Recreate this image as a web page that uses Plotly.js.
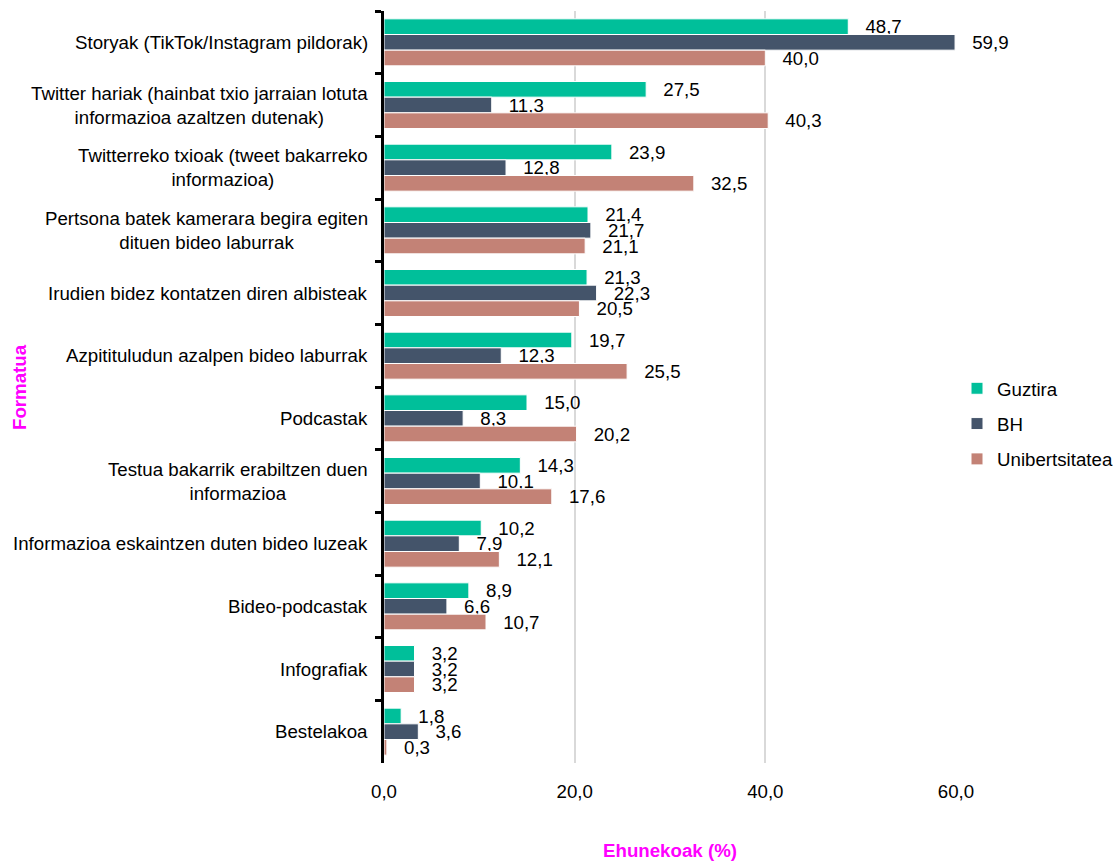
<!DOCTYPE html>
<html>
<head>
<meta charset="utf-8">
<script src="https://cdn.plot.ly/plotly-3.0.1.min.js"></script>
<style>html,body{margin:0;padding:0;background:#fff;}#chart{width:1115px;height:861px;}</style>
</head>
<body>
<div id="chart"></div>
<script>
const categories = [
  "Storyak (TikTok/Instagram pildorak)",
  "Twitter hariak (hainbat txio jarraian lotuta<br>informazioa azaltzen dutenak)",
  "Twitterreko txioak (tweet bakarreko<br>informazioa)",
  "Pertsona batek kamerara begira egiten<br>dituen bideo laburrak",
  "Irudien bidez kontatzen diren albisteak",
  "Azpitituludun azalpen bideo laburrak",
  "Podcastak",
  "Testua bakarrik erabiltzen duen<br>informazioa",
  "Informazioa eskaintzen duten bideo luzeak",
  "Bideo-podcastak",
  "Infografiak",
  "Bestelakoa"
];
const guztira = [48.7, 27.5, 23.9, 21.4, 21.3, 19.7, 15.0, 14.3, 10.2, 8.9, 3.2, 1.8];
const bh = [59.9, 11.3, 12.8, 21.7, 22.3, 12.3, 8.3, 10.1, 7.9, 6.6, 3.2, 3.6];
const unibertsitatea = [40.0, 40.3, 32.5, 21.1, 20.5, 25.5, 20.2, 17.6, 12.1, 10.7, 3.2, 0.3];
const seriesNames = ["Guztira", "BH", "Unibertsitatea"];
const xTickVals = [0, 20, 40, 60];

const FONT = "Liberation Sans, Arial, sans-serif";
const FS = 18.7;
const colors = ["#00BF9A", "#44546A", "#C38276"];
const data = [guztira, bh, unibertsitatea].map((vals, i) => ({
  type: "bar",
  orientation: "h",
  name: seriesNames[i],
  y: categories,
  x: vals,
  marker: {color: colors[i], line: {color: "#ffffff", width: 1}},
  texttemplate: "\u00a0\u00a0\u2009%{x:.1f}",
  textposition: "outside",
  constraintext: "none",
  cliponaxis: false,
  textfont: {family: FONT, size: FS, color: "#000000"},
  legendgroup: "g" + i,
  hoverinfo: "x+name"
}));

const annotations = categories.map(c => ({
  xref: "paper", yref: "y", x: 0, y: c,
  xanchor: "right", yanchor: "middle", xshift: -14,
  align: "center", showarrow: false, text: c,
  font: {family: FONT, size: FS, color: "#000000"}
}));
annotations.push({
  xref: "paper", yref: "paper", x: (19 - 384) / 572, y: 0.5,
  xanchor: "center", yanchor: "middle", textangle: -90, showarrow: false,
  text: "<b>Formatua</b>",
  font: {family: FONT, size: FS, color: "#FF00FF"}
});

const layout = {
  width: 1115, height: 861,
  margin: {l: 384, r: 159, t: 11, b: 98, autoexpand: false},
  paper_bgcolor: "#ffffff", plot_bgcolor: "#ffffff",
  separators: ", ",
  barmode: "group",
  bargap: 0.25,
  bargroupgap: 0,
  font: {family: FONT, size: FS, color: "#000000"},
  showlegend: true,
  legend: {
    xref: "container", x: 957 / 1115, xanchor: "left", y: 0.508, yanchor: "middle",
    yref: "container",
    font: {family: FONT, size: FS, color: "#000000"},
    tracegroupgap: 8, itemwidth: 30, bgcolor: "rgba(0,0,0,0)"
  },
  xaxis: {
    range: [0, 60], tickvals: xTickVals, tickformat: ".1f",
    showgrid: true, gridcolor: "#D9D9D9", gridwidth: 2,
    zeroline: false, showline: false,
    ticks: "outside", ticklen: 12, tickcolor: "rgba(0,0,0,0)",
    tickfont: {family: FONT, size: FS, color: "#000000"},
    title: {text: "Ehunekoak (%)", standoff: 44,
            font: {family: FONT, size: FS, color: "#FF00FF", weight: "bold"}}
  },
  yaxis: {
    type: "category", autorange: "reversed",
    showticklabels: false,
    ticks: "outside", tickson: "boundaries", ticklen: 6, tickwidth: 3, tickcolor: "#000000",
    showline: true, linecolor: "#000000", linewidth: 3,
    showgrid: false, zeroline: false
  },
  annotations: annotations
};

Plotly.newPlot("chart", data, layout, {displayModeBar: false, staticPlot: true});
</script>
</body>
</html>
